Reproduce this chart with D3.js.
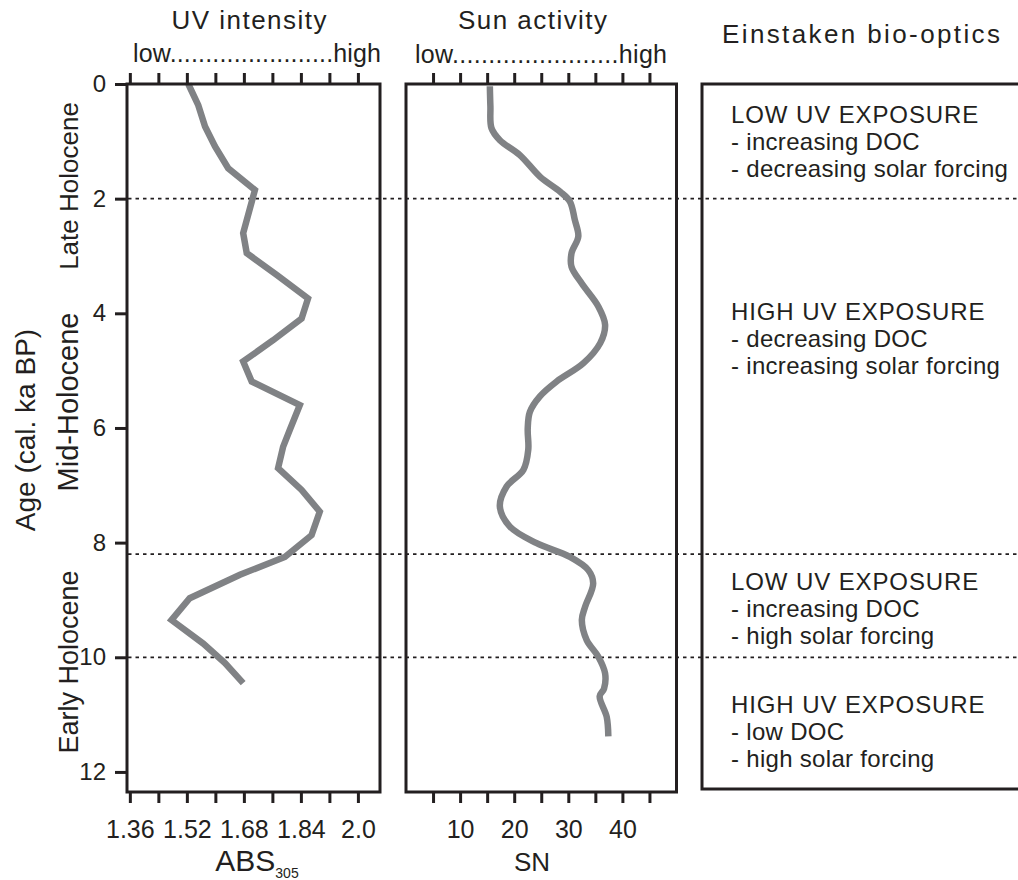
<!DOCTYPE html>
<html>
<head>
<meta charset="utf-8">
<script src="https://cdn.jsdelivr.net/npm/d3@7"></script>
<style>
  body { margin: 0; background: #fff; }
  svg text { font-family: "Liberation Sans", Arial, Helvetica, sans-serif; fill: #231f20; }
</style>
</head>
<body>
<div id="chart"></div>
<script>
// UV intensity record: ABS305 against age (cal. ka BP)
var uvAge = [0, 0.37, 0.74, 1.09, 1.47, 1.85, 2.60, 2.95, 3.33, 3.74, 4.09, 4.47, 4.84, 5.19,
  5.60, 6.03, 6.33, 6.70, 7.08, 7.46, 7.87, 8.25, 8.56, 8.97, 9.35, 9.76, 10.10, 10.45];
var uvAbs = [1.524, 1.552, 1.571, 1.599, 1.636, 1.711, 1.678, 1.688, 1.772, 1.860, 1.842, 1.762, 1.678, 1.702,
  1.837, 1.809, 1.790, 1.776, 1.842, 1.893, 1.870, 1.795, 1.669, 1.528, 1.477, 1.566, 1.627, 1.678];

// Sun activity: sunspot number against age
var snAge = [0.04, 0.39, 0.77, 0.98, 1.24, 1.62, 1.88, 2.05, 2.37, 2.66, 2.95, 3.19, 3.48, 3.88, 4.20,
  4.52, 4.87, 5.19, 5.45, 5.72, 6.01, 6.38, 6.73, 7.02, 7.37, 7.72, 8.01, 8.25, 8.48, 8.71, 9.12,
  9.35, 9.70, 9.99, 10.28, 10.55, 10.68, 11.04, 11.38];
var snValue = [15.5, 15.6, 15.8, 17.35, 21.05, 24.8, 28.5, 30.3, 31.2, 31.85, 30.6, 30.6, 32.5, 35.55, 36.8,
  35.9, 32.8, 27.85, 24.75, 22.9, 22.5, 22.6, 21.7, 18.6, 17.35, 19.2, 24.15, 30.3, 33.7, 34.6, 33.1,
  32.5, 33.4, 35.55, 36.8, 36.6, 35.8, 37.1, 37.4];

// axis ticks and labels
var ageTicks = [0, 2, 4, 6, 8, 10, 12];
var absTicks = [1.36, 1.44, 1.52, 1.60, 1.68, 1.76, 1.84, 1.92, 2.0];
var absLabels = ["1.36", "1.52", "1.68", "1.84", "2.0"];
var snTicks = [5, 10, 15, 20, 25, 30, 35, 40, 45];
var snLabels = [10, 20, 30, 40];

// zone boundaries (ka) and descriptions
var zoneBounds = [2, 8.2, 10];
var periods = ["Late Holocene", "Mid-Holocene", "Early Holocene"];
var zoneTitles = ["LOW UV EXPOSURE", "HIGH UV EXPOSURE", "LOW UV EXPOSURE", "HIGH UV EXPOSURE"];
var zoneNotes = [
  ["- increasing DOC", "- decreasing solar forcing"],
  ["- decreasing DOC", "- increasing solar forcing"],
  ["- increasing DOC", "- high solar forcing"],
  ["- low DOC", "- high solar forcing"]
];

var ink = "#231f20";
var curveGrey = "#808285";

var svg = d3.select("#chart").append("svg")
  .attr("width", 1018).attr("height", 880);

// Scales
var yScale = d3.scaleLinear().domain([0, 12.35]).range([84, 792]);
var absScale = d3.scaleLinear().domain([1.352, 2.062]).range([127, 380]);
var snScale = d3.scaleLinear().domain([0, 50]).range([406, 676.5]);

// dotted zone boundaries across all columns
svg.selectAll(".zone-line").data(zoneBounds).enter().append("line")
  .attr("class", "zone-line")
  .attr("x1", 128).attr("x2", 1018)
  .attr("y1", function (d) { return yScale(d); })
  .attr("y2", function (d) { return yScale(d); })
  .attr("stroke", ink).attr("stroke-width", 1.8)
  .attr("stroke-dasharray", "3.5,4");

// curves
var uvData = uvAge.map(function (a, i) { return { age: a, v: uvAbs[i] }; });
var snData = snAge.map(function (a, i) { return { age: a, v: snValue[i] }; });

var uvLine = d3.line()
  .x(function (d) { return absScale(d.v); })
  .y(function (d) { return yScale(d.age); });
var snLine = d3.line()
  .curve(d3.curveCatmullRom.alpha(0.5))
  .x(function (d) { return snScale(d.v); })
  .y(function (d) { return yScale(d.age); });

svg.append("path").datum(uvData)
  .attr("d", uvLine)
  .attr("fill", "none").attr("stroke", curveGrey)
  .attr("stroke-width", 6.5).attr("stroke-linejoin", "miter");
svg.append("path").datum(snData)
  .attr("d", snLine)
  .attr("fill", "none").attr("stroke", curveGrey)
  .attr("stroke-width", 6.5);

// panel frames
var frames = [
  [absScale.range()[0], absScale.range()[1]],
  [snScale.range()[0], snScale.range()[1]]
];
frames.forEach(function (f) {
  svg.append("rect")
    .attr("x", f[0]).attr("y", yScale.range()[0])
    .attr("width", f[1] - f[0]).attr("height", yScale.range()[1] - yScale.range()[0])
    .attr("fill", "none").attr("stroke", ink).attr("stroke-width", 3);
});
svg.append("rect")
  .attr("x", 702).attr("y", 84).attr("width", 400).attr("height", 705)
  .attr("fill", "none").attr("stroke", ink).attr("stroke-width", 3);

function styleAxis(g, size) {
  g.select(".domain").remove();
  g.attr("font-size", size);
  g.selectAll(".tick line").attr("stroke", ink).attr("stroke-width", 3);
  g.selectAll(".tick text").attr("fill", ink);
}

// y axis
svg.append("g").attr("transform", "translate(128,0)")
  .call(d3.axisLeft(yScale).tickValues(ageTicks).tickSize(13).tickPadding(9))
  .call(styleAxis, 24);

// ABS axes
svg.append("g").attr("transform", "translate(0,84)")
  .call(d3.axisTop(absScale).tickValues(absTicks).tickSize(11).tickFormat(""))
  .call(styleAxis, 25);
svg.append("g").attr("transform", "translate(0,792)")
  .call(d3.axisBottom(absScale).tickValues(absTicks).tickSize(11).tickPadding(17)
    .tickFormat(function (d, i) { return i % 2 === 0 ? absLabels[i / 2] : ""; }))
  .call(styleAxis, 25);

// SN axes
svg.append("g").attr("transform", "translate(0,84)")
  .call(d3.axisTop(snScale).tickValues(snTicks).tickSize(11).tickFormat(""))
  .call(styleAxis, 25);
svg.append("g").attr("transform", "translate(0,792)")
  .call(d3.axisBottom(snScale).tickValues(snTicks).tickSize(11).tickPadding(17)
    .tickFormat(function (d) { return snLabels.indexOf(d) >= 0 ? d : ""; }))
  .call(styleAxis, 25);

// column headers
function header(x, y, size, width, str) {
  svg.append("text")
    .attr("x", x).attr("y", y)
    .attr("text-anchor", "middle")
    .attr("font-size", size)
    .attr("textLength", width).attr("lengthAdjust", "spacing")
    .text(str);
}
var dots = ".......................";
header(249, 29, 26, 155, "UV intensity");
header(257, 62, 25, 248, "low" + dots + "high");
header(532.5, 29, 26, 149, "Sun activity");
header(541, 63, 25, 252, "low" + dots + "high");
header(861, 43, 26, 278, "Einstaken bio-optics");

// bottom axis titles
var absTitle = svg.append("text")
  .attr("x", 257).attr("y", 871).attr("text-anchor", "middle")
  .attr("font-size", 30);
absTitle.append("tspan").text("ABS");
absTitle.append("tspan").attr("font-size", 14).attr("dy", 7).text("305");

svg.append("text")
  .attr("x", 532).attr("y", 871).attr("text-anchor", "middle")
  .attr("font-size", 26).text("SN");

// rotated labels
svg.append("text")
  .attr("transform", "translate(35,430) rotate(-90)")
  .attr("text-anchor", "middle").attr("font-size", 28)
  .text("Age (cal. ka BP)");

var periodCenters = [186, 402, 662];
var periodSizes = [26, 29, 27];
svg.selectAll(".period").data(periods).enter().append("text")
  .attr("class", "period")
  .attr("transform", function (d, i) { return "translate(78," + periodCenters[i] + ") rotate(-90)"; })
  .attr("text-anchor", "middle")
  .attr("font-size", function (d, i) { return periodSizes[i]; })
  .text(function (d) { return d; });

// zone descriptions
var zoneTop = [123, 320, 590, 713];
var lineGap = 27;
zoneTitles.forEach(function (t, i) {
  var g = svg.append("text").attr("font-size", 24);
  [t].concat(zoneNotes[i]).forEach(function (s, k) {
    g.append("tspan").attr("x", 731).attr("y", zoneTop[i] + k * lineGap)
      .attr("letter-spacing", k === 0 ? 0.9 : 0.3)
      .text(s);
  });
});
</script>
</body>
</html>
